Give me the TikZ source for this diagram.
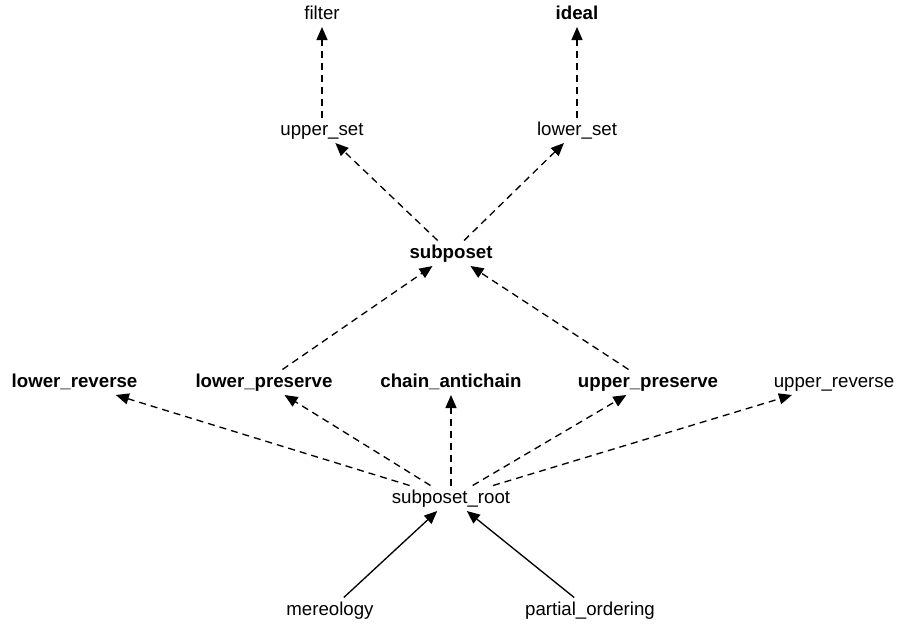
\documentclass[tikz,border=0pt]{standalone}
\usepackage{fontspec}
\setmainfont{Liberation Sans}
\usetikzlibrary{arrows.meta}
\begin{document}
\begin{tikzpicture}[x=1pt,y=-1pt,
  lbl/.style={anchor=base, inner sep=4pt, outer sep=0pt, font=\fontsize{18.67}{22}\selectfont, text height=13.5pt, text depth=4pt},
  bl/.style={lbl, font=\fontsize{18.67}{22}\selectfont\bfseries},
  dep/.style={-{Triangle[length=13pt,width=11pt]}, line width=1.33pt, dash pattern=on 7pt off 5pt},
  sol/.style={-{Triangle[length=13pt,width=11pt]}, line width=1.33pt}]
\useasboundingbox (0,0) rectangle (897,627);
\node[lbl] (filter) at (322,19) {filter};
\node[bl] (ideal) at (577,19) {ideal};
\node[lbl] (upperset) at (322,135) {upper\_set};
\node[lbl] (lowerset) at (577,135) {lower\_set};
\node[bl] (subposet) at (451,258) {subposet};
\node[bl] (lowerrev) at (74.5,387) {lower\_reverse};
\node[bl] (lowerpres) at (264,387) {lower\_preserve};
\node[bl] (chain) at (451,387) {chain\_antichain};
\node[bl] (upperpres) at (648,387) {upper\_preserve};
\node[lbl] (upperrev) at (834,387) {upper\_reverse};
\node[lbl] (root) at (451,503) {subposet\_root};
\node[lbl] (mer) at (330,615) {mereology};
\node[lbl] (po) at (590,615) {partial\_ordering};
\draw[dep] (upperset) -- (filter);
\draw[dep] (lowerset) -- (ideal);
\draw[dep] (subposet) -- (upperset);
\draw[dep] (subposet) -- (lowerset);
\draw[dep] (lowerpres) -- (subposet);
\draw[dep] (upperpres) -- (subposet);
\draw[dep] (root) -- (lowerrev);
\draw[dep] (root) -- (lowerpres);
\draw[dep] (root) -- (chain);
\draw[dep] (root) -- (upperpres);
\draw[dep] (root) -- (upperrev);
\draw[sol] (mer) -- (root);
\draw[sol] (po) -- (root);
\end{tikzpicture}
\end{document}
